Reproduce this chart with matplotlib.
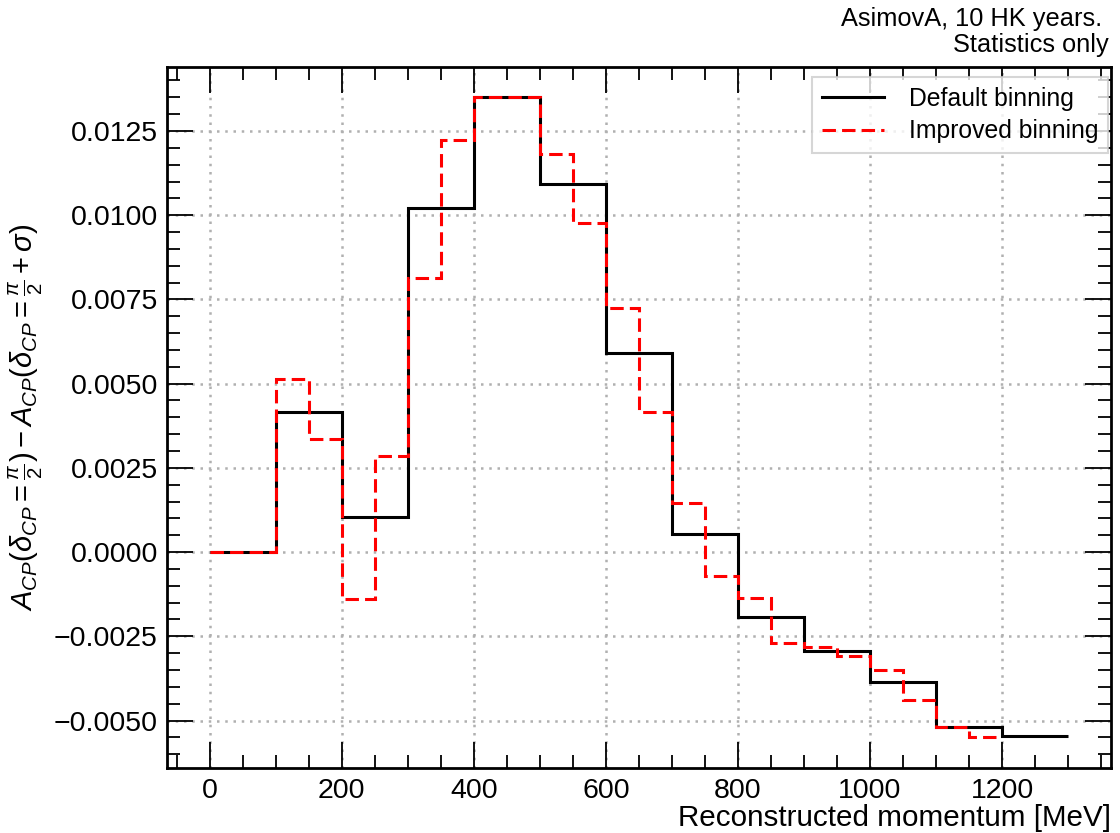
import numpy as np
import matplotlib
matplotlib.use("Agg")
import matplotlib.pyplot as plt
from matplotlib.ticker import MultipleLocator, FuncFormatter

plt.rcParams['font.family'] = ['Liberation Sans', 'DejaVu Sans']
plt.rcParams['mathtext.fontset'] = 'custom'
plt.rcParams['mathtext.rm'] = 'Liberation Sans'
plt.rcParams['mathtext.it'] = 'Liberation Sans:italic'
plt.rcParams['mathtext.bf'] = 'Liberation Sans:bold'

# Data
default_edges = [0, 100, 200, 300, 400, 500, 600, 700, 800, 900, 1000, 1100, 1200, 1300]
default_values = [0.0, 0.00415, 0.00105, 0.01021, 0.01350, 0.01093, 0.00591,
                  0.00053, -0.00192, -0.00294, -0.00386, -0.00519, -0.00546]

improved_edges = [0, 100, 150, 200, 250, 300, 350, 400, 500, 550, 600, 650, 700,
                  750, 800, 850, 900, 950, 1000, 1050, 1100, 1150, 1200]
improved_values = [0.0, 0.00514, 0.00335, -0.00140, 0.00286, 0.00815, 0.01223,
                   0.01350, 0.01182, 0.00977, 0.00724, 0.00417, 0.00146, -0.00071,
                   -0.00136, -0.00269, -0.00281, -0.00309, -0.00350, -0.00439,
                   -0.00520, -0.00548]

labels = ["Default binning", "Improved binning"]

fig = plt.figure(figsize=(11.2, 8.33), dpi=100)
ax = fig.add_axes([0.149, 0.078, 0.843, 0.8416])

ax.stairs(default_values, default_edges, baseline=None, color='black', lw=2.2,
          label=labels[0], zorder=3)
ax.stairs(improved_values, improved_edges, baseline=None, color='red', lw=2.2,
          ls=(0, (4.4, 2.0)), label=labels[1], zorder=4)

ax.set_xlim(-65, 1365)
ax.set_ylim(-0.00641, 0.0144)

ax.xaxis.set_major_locator(MultipleLocator(200))
ax.xaxis.set_minor_locator(MultipleLocator(50))
ax.yaxis.set_major_locator(MultipleLocator(0.0025))
ax.yaxis.set_minor_locator(MultipleLocator(0.0005))
ax.yaxis.set_major_formatter(FuncFormatter(
    lambda v, p: f"{v:.4f}".replace('-', '\u2212') if abs(v) > 1e-12 else "0.0000"))

ax.tick_params(which='both', direction='in', top=True, right=True, labelsize=20.5)
ax.tick_params(which='major', length=18.5, width=1.3)
ax.tick_params(which='minor', length=9.5, width=1.3)
ax.tick_params(axis='y', which='major', pad=6.5)
ax.tick_params(axis='x', which='major', pad=7)
for s in ax.spines.values():
    s.set_linewidth(2)

ax.grid(True, which='major', color='#b0b0b0', ls=(0, (1, 2.3)), lw=1.8)
ax.set_axisbelow(True)

ax.set_xlabel("Reconstructed momentum [MeV]", fontsize=21.3, loc='right', labelpad=0)
ax.set_ylabel(r"$A_{CP}(\delta_{CP}=\frac{\pi}{2})-A_{CP}(\delta_{CP}=\frac{\pi}{2}+\sigma)$",
              fontsize=21)
ax.yaxis.set_label_coords(-0.129, 0.5)

leg = ax.legend(loc='upper right', fontsize=17.8, frameon=True, fancybox=False,
                handlelength=2.5, borderpad=0.4, labelspacing=0.35,
                bbox_to_anchor=(0.997, 0.986), handletextpad=1.0, borderaxespad=0)
leg.get_frame().set_edgecolor('#cccccc')
leg.get_frame().set_linewidth(1.5)

fig.text(0.984, 1 - 26 / 833, "AsimovA, 10 HK years.", ha='right', va='baseline',
         fontsize=18.3)
fig.text(0.990, 1 - 52 / 833, "Statistics only", ha='right', va='baseline',
         fontsize=18.3)

fig.savefig("out.png", dpi=100)
